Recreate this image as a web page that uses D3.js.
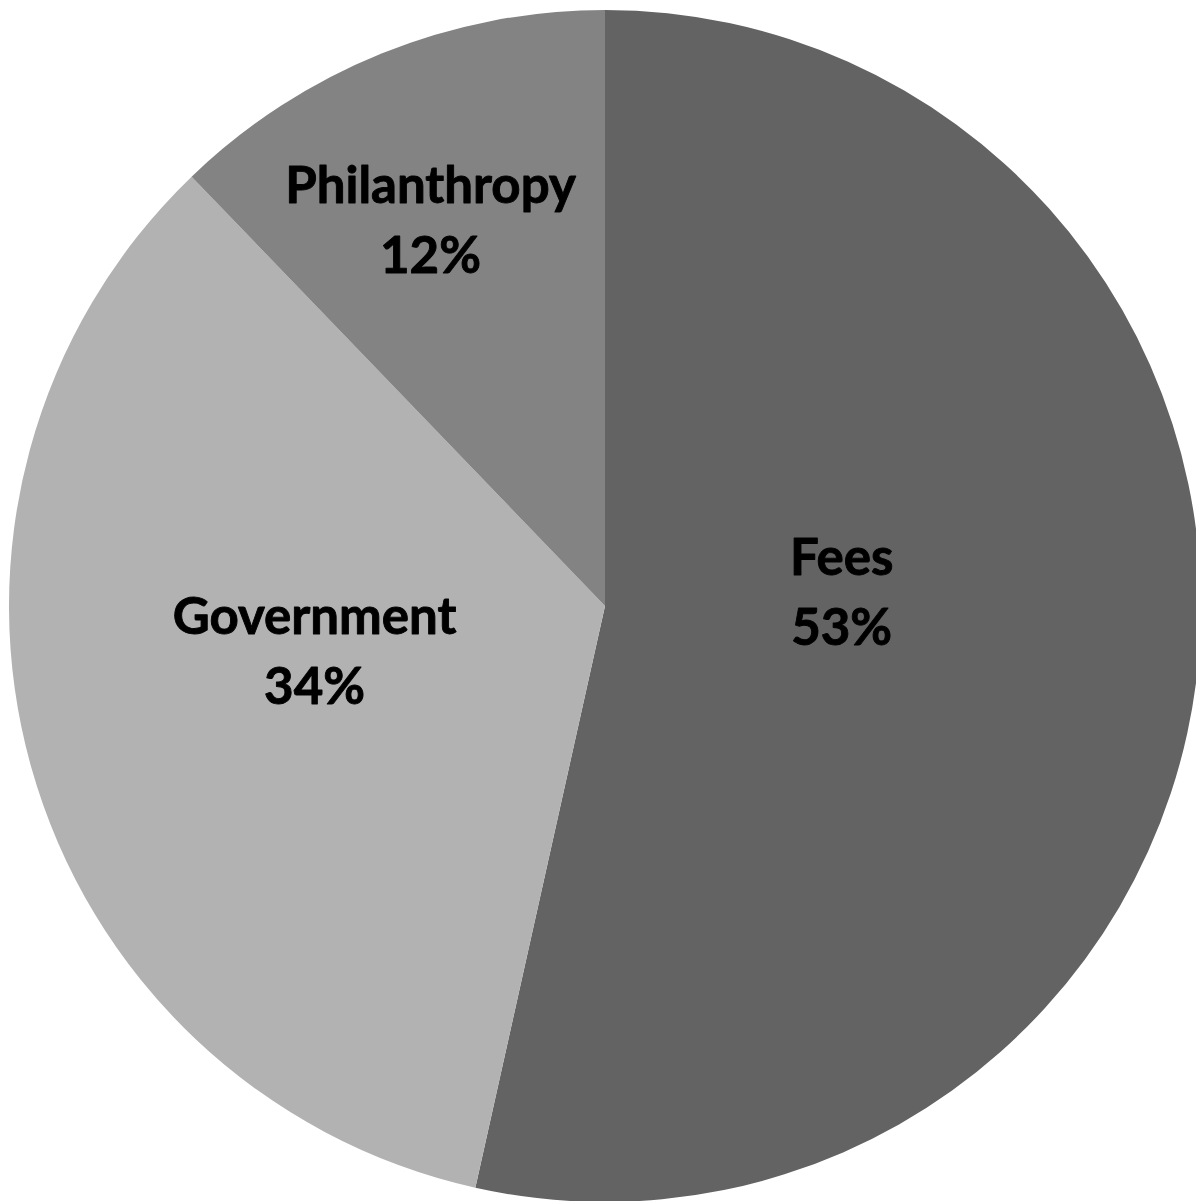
<!DOCTYPE html>
<html>
<head>
<meta charset="utf-8">
<script src="https://cdn.jsdelivr.net/npm/d3@7"></script>
<style>
  html, body { margin: 0; padding: 0; background: #ffffff; }
  svg { display: block; }
</style>
</head>
<body>
<svg id="chart" width="1196" height="1201"></svg>
<script>
// ---- data ----
const categories = ["Fees", "Government", "Philanthropy"];
const values = [53.49, 34.31, 12.2];
const colors = ["#636363", "#b2b2b2", "#838383"];

// ---- layout ----
const W = 1196, H = 1201;
const cx = 605, cy = 606, R = 596;
const fontSize = 51;
const lineGap = 70;
// label block centers: distance from pie center and angle nudge (radians) off the slice mid-angle
const labelPos = [
  { r: 237, da: -0.167 },
  { r: 294, da: 0.117 },
  { r: 423, da: -0.042 }
];

const svg = d3.select("#chart");
const g = svg.append("g").attr("transform", `translate(${cx},${cy})`);

const pie = d3.pie().sort(null).value(d => d.value);
const data = categories.map((c, i) => ({ name: c, value: values[i], color: colors[i] }));
const arcs = pie(data);
const arc = d3.arc().innerRadius(0).outerRadius(R);

g.selectAll("path.slice")
  .data(arcs)
  .enter().append("path")
  .attr("class", "slice")
  .attr("d", arc)
  .attr("fill", d => d.data.color);

const total = d3.sum(values);
const labels = g.selectAll("g.lab")
  .data(arcs)
  .enter().append("g")
  .attr("class", "lab")
  .attr("transform", (d, i) => {
    const a = (d.startAngle + d.endAngle) / 2 + labelPos[i].da;
    const x = Math.sin(a) * labelPos[i].r;
    const y = -Math.cos(a) * labelPos[i].r;
    return `translate(${x},${y})`;
  });

function styleText(sel) {
  sel.attr("text-anchor", "middle")
    .style("font-family", "Lato, 'Open Sans', sans-serif")
    .style("font-weight", "700")
    .style("font-size", fontSize + "px")
    .attr("fill", "#000")
    .attr("stroke", "#000")
    .attr("stroke-width", 0.9)
    .attr("stroke-linejoin", "round");
}

labels.append("text")
  .call(styleText)
  .attr("y", -lineGap / 2 + fontSize * 0.34)
  .text(d => d.data.name);

labels.append("text")
  .call(styleText)
  .attr("y", lineGap / 2 + fontSize * 0.34)
  .text(d => Math.round(d.data.value / total * 100) + "%");
</script>
</body>
</html>
